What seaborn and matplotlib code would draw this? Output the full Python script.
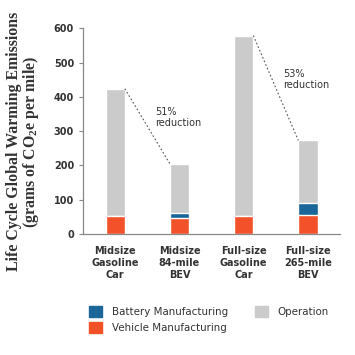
import matplotlib
matplotlib.use("Agg")
import matplotlib.pyplot as plt
from matplotlib.patches import Patch
import seaborn as sns
import pandas as pd

sns.set_theme(style="white")
plt.rcParams["font.family"] = ["DejaVu Sans"]

# ── data (grams CO2e per mile) ────────────────────────────────────────────────
cars      = ["Midsize\nGasoline\nCar", "Midsize\n84-mile\nBEV",
             "Full-size\nGasoline\nCar", "Full-size\n265-mile\nBEV"]
vehicle   = [52, 47, 52, 56]
battery   = [0, 14, 0, 34]
operation = [372, 144, 527, 183]
pairs     = [(0, 1, "51%\nreduction"), (2, 3, "53%\nreduction")]

C_VEH, C_BAT, C_OP = "#F2512A", "#1A6699", "#CBCBCB"
TXT = "#333333"

df = pd.DataFrame({"car": cars, "vehicle": vehicle, "battery": battery, "operation": operation})
df["vb"] = df["vehicle"] + df["battery"]
df["total"] = df["vb"] + df["operation"]

fig = plt.figure(figsize=(3.55, 3.55), dpi=100)
ax = fig.add_axes([0.234, 0.341, 0.724, 0.579])

W = 0.3
sns.barplot(data=df, x="car", y="total", color=C_OP, width=W, saturation=1, ax=ax)
sns.barplot(data=df, x="car", y="vb", color=C_BAT, width=W, saturation=1, ax=ax)
sns.barplot(data=df, x="car", y="vehicle", color=C_VEH, width=W, saturation=1, ax=ax)

# dotted connectors + reduction notes
for a, b, note in pairs:
    ta, tb = df["total"][a], df["total"][b]
    ax.plot([a + W / 2, b - W / 2], [ta, tb], ls=(0, (1.5, 2)), color="#555555", lw=0.8)
    ax.text(a + 0.62, (ta + tb) / 2 + 25, note, fontsize=7, color=TXT,
            ha="left", va="center", linespacing=1.2)

ax.set_xlim(-0.5, 3.5)
ax.set_ylim(0, 600)
ax.set_yticks(range(0, 601, 100))
ax.set_xlabel("")
ax.set_ylabel("Life Cycle Global Warming Emissions\n(grams of CO$_\\mathregular{2}$e per mile)",
              family=["Liberation Serif", "DejaVu Serif"], fontweight="bold",
              fontsize=11.4, color=TXT, linespacing=0.95)
ax.yaxis.set_label_coords(-0.163, 0.45)

ax.set_xticks(range(4))
ax.set_xticklabels(cars, fontsize=7, color=TXT, fontweight="bold", linespacing=1.2)
ax.set_xticks([0.5, 1.5, 2.5, 3.5], minor=True)
ax.tick_params(axis="x", which="major", length=0, pad=9)
ax.tick_params(axis="x", which="minor", length=3, color="#888888", width=0.8, direction="out")
ax.tick_params(axis="y", labelsize=7, labelcolor=TXT, length=3, color="#888888", width=0.8, left=True)
for lab in ax.get_yticklabels():
    lab.set_fontweight("bold")

sns.despine(ax=ax)
for s in ("left", "bottom"):
    ax.spines[s].set_color("#888888")
    ax.spines[s].set_linewidth(0.9)

handles = [Patch(color=C_BAT, label="Battery Manufacturing"),
           Patch(color=C_VEH, label="Vehicle Manufacturing"),
           Patch(color=C_OP, label="Operation")]
fig.legend(handles=handles, ncol=2, loc="upper left", bbox_to_anchor=(0.225, 0.165),
           frameon=False, fontsize=7.4, handlelength=1.3, handleheight=1.3,
           columnspacing=2.6, handletextpad=0.9, labelspacing=0.5,
           labelcolor=TXT)

fig.savefig("out.png", dpi=100)
